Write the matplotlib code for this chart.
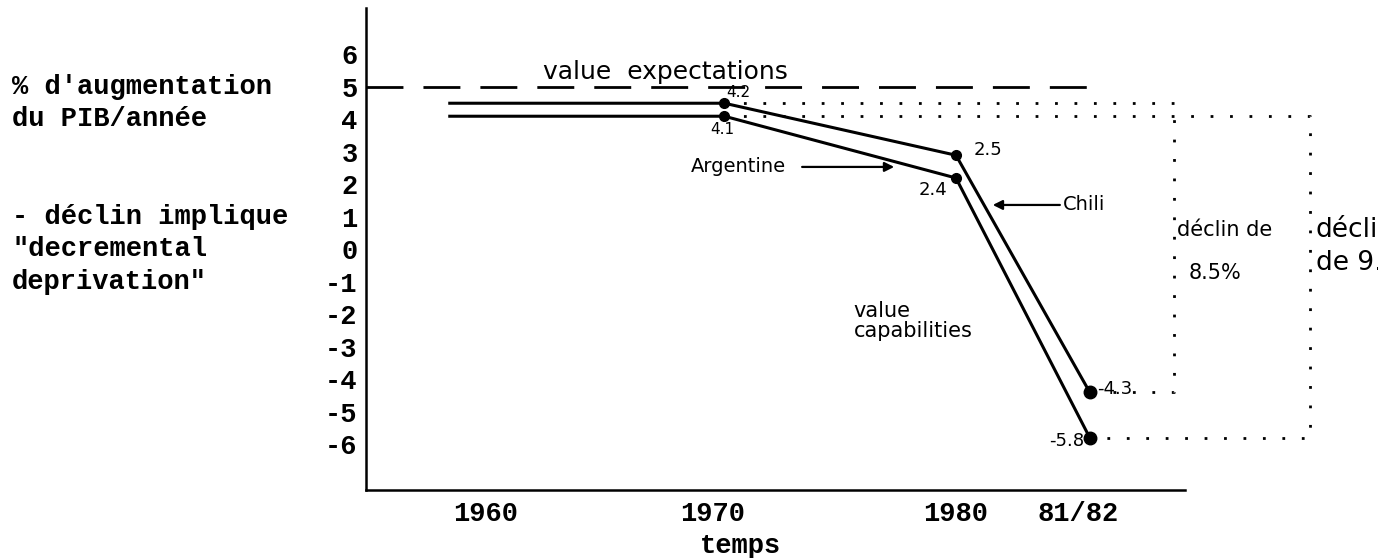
import matplotlib.pyplot as plt

# data (positions as drawn on the sketch, labels as written on it)
x_pts = [-0.16, 1.05, 2.07, 2.66]
chili = [4.5, 4.5, 2.9, -4.4]
argentine = [4.1, 4.1, 2.2, -5.8]
chili_labels = ['4.2', '2.5', '-4.3']
argentine_labels = ['4.1', '2.4', '-5.8']
expectation = 5

x_ticks = [0, 1, 2.07, 2.61]
x_labels = ['1960', '1970', '1980', '81/82']
y_ticks = list(range(-6, 7))

left_lines = ["% d'augmentation", "du PIB/année", "- déclin implique",
              '"decremental', 'deprivation"']
left_rows = [5, 4, 1, 0, -1]

mono = {'family': 'Liberation Mono', 'weight': 'bold', 'size': 19.5}
hand = {'family': 'DejaVu Sans'}

fig = plt.figure(figsize=(13.78, 5.58), dpi=100)
ax = fig.add_axes([366 / 1378, 68 / 558, 819 / 1378, 482 / 558])
ax.set_xlim(-0.529, 3.079)
ax.set_ylim(-7.4, 7.43)

for s in ['top', 'right']:
    ax.spines[s].set_visible(False)
for s in ['left', 'bottom']:
    ax.spines[s].set_linewidth(1.8)

ax.set_yticks(y_ticks)
ax.set_yticklabels([str(v) for v in y_ticks], fontdict=mono)
ax.set_xticks(x_ticks)
ax.set_xticklabels(x_labels, fontdict=mono)
ax.tick_params(axis='y', length=0, pad=6)
ax.tick_params(axis='x', length=0, pad=8)
ax.set_xlabel('temps', fontdict=mono)
ax.xaxis.set_label_coords(0.457, -0.09)

# left explanatory text
for txt, row in zip(left_lines, left_rows):
    ax.text(-0.432, row, txt, transform=ax.get_yaxis_transform(),
            ha='left', va='center', clip_on=False, **mono)

# expectation line
ax.plot([-0.529, 2.70], [expectation, expectation], color='black', lw=2,
        dashes=(13.3, 7.2), solid_capstyle='butt')
ax.text(0.79, 5.25, 'value  expectations', fontsize=18, ha='center', va='baseline', **hand)

# capability lines
ax.plot(x_pts, chili, color='black', lw=2.2, marker='o', ms=7, markevery=[1, 2])
ax.plot(x_pts, argentine, color='black', lw=2.2, marker='o', ms=7, markevery=[1, 2])
ax.plot(x_pts[3], chili[3], 'o', color='black', ms=9)
ax.plot(x_pts[3], argentine[3], 'o', color='black', ms=9)

# dotted boxes showing the decline
dot = dict(color='black', lw=2, linestyle=(0, (1, 6)), clip_on=False)
ax.plot([x_pts[1], 3.03, 3.03, x_pts[3]], [chili[1], chili[1], chili[3], chili[3]], **dot)
ax.plot([x_pts[1], 3.63, 3.63, x_pts[3]],
        [argentine[1], argentine[1], argentine[3], argentine[3]], **dot)

# value labels
ax.text(1.11, 4.82, chili_labels[0], fontsize=11, ha='center', va='center', **hand)
ax.text(1.04, 3.68, argentine_labels[0], fontsize=11, ha='center', va='center', **hand)
ax.text(2.21, 3.06, chili_labels[1], fontsize=13, ha='center', va='center', **hand)
ax.text(1.97, 1.83, argentine_labels[1], fontsize=13, ha='center', va='center', **hand)
ax.text(2.69, -4.3, chili_labels[2], fontsize=13, ha='left', va='center', **hand)
ax.text(2.635, -5.9, argentine_labels[2], fontsize=13, ha='right', va='center', **hand)

# series names with arrows
arrow = dict(arrowstyle='-|>', color='black', lw=1.6, mutation_scale=14)
ax.text(1.11, 2.54, 'Argentine', fontsize=14, ha='center', va='center', **hand)
ax.annotate('', xy=(1.81, 2.54), xytext=(1.38, 2.54), arrowprops=arrow)
ax.text(2.54, 1.37, 'Chili', fontsize=14, ha='left', va='center', **hand)
ax.annotate('', xy=(2.22, 1.37), xytext=(2.54, 1.37), arrowprops=arrow)
ax.text(1.62, -2.2, 'value\ncapabilities', fontsize=15, ha='left', va='center',
        linespacing=1.05, **hand)

# decline notes (second one runs off the page, as on the sketch)
ax.text(3.045, 0.6, 'déclin de', fontsize=15, ha='left', va='center', **hand)
ax.text(3.094, -0.72, '8.5%', fontsize=15, ha='left', va='center', **hand)
ax.text(3.655, 0.6, 'déclin', fontsize=19, ha='left', va='center', clip_on=False, **hand)
ax.text(3.655, -0.42, 'de 9.9%', fontsize=19, ha='left', va='center', clip_on=False, **hand)

fig.savefig('out.png', dpi=100)
